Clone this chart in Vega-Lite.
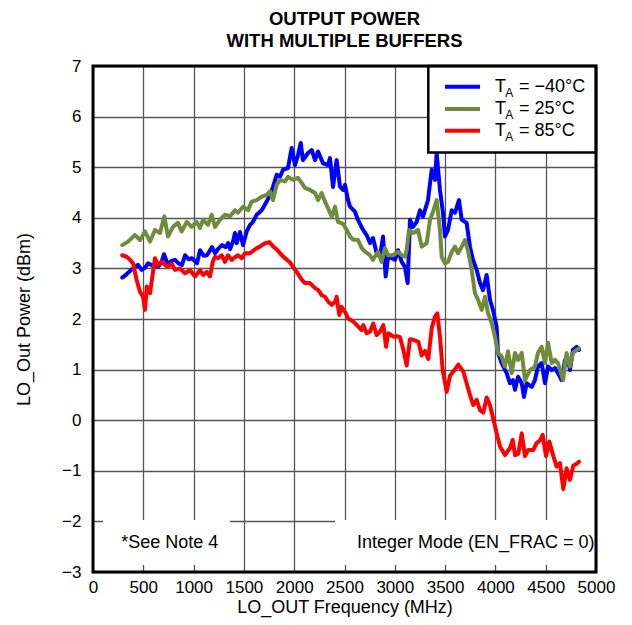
{
  "$schema": "https://vega.github.io/schema/vega-lite/v6.json",
  "width": 503,
  "height": 506,
  "autosize": {"type": "none"},
  "padding": {"left": 93, "top": 66, "right": 36, "bottom": 53},
  "background": "white",
  "config": {
    "view": {"stroke": null},
    "font": "Liberation Sans",
    "text": {"font": "Liberation Sans", "color": "black"}
  },
  "title": {
    "text": ["OUTPUT POWER", "WITH MULTIPLE BUFFERS"],
    "font": "Liberation Sans",
    "fontSize": 18.5,
    "fontWeight": "bold",
    "color": "black",
    "anchor": "middle",
    "lineHeight": 22,
    "offset": 7
  },
  "data": {
    "values": [
      {"s":"−40°C","f":291,"p":2.82},{"s":"−40°C","f":320,"p":2.86},{"s":"−40°C","f":368,"p":2.95},{"s":"−40°C","f":400,"p":3.0},{"s":"−40°C","f":447,"p":3.07},{"s":"−40°C","f":484,"p":2.97},{"s":"−40°C","f":520,"p":3.02},{"s":"−40°C","f":547,"p":3.1},{"s":"−40°C","f":600,"p":3.05},{"s":"−40°C","f":646,"p":3.03},{"s":"−40°C","f":680,"p":3.12},{"s":"−40°C","f":706,"p":3.28},{"s":"−40°C","f":745,"p":3.07},{"s":"−40°C","f":780,"p":3.15},{"s":"−40°C","f":815,"p":3.17},{"s":"−40°C","f":850,"p":3.1},{"s":"−40°C","f":885,"p":3.07},{"s":"−40°C","f":915,"p":3.26},{"s":"−40°C","f":950,"p":3.18},{"s":"−40°C","f":984,"p":3.2},{"s":"−40°C","f":1034,"p":3.1},{"s":"−40°C","f":1064,"p":3.36},{"s":"−40°C","f":1100,"p":3.25},{"s":"−40°C","f":1133,"p":3.26},{"s":"−40°C","f":1183,"p":3.42},{"s":"−40°C","f":1213,"p":3.3},{"s":"−40°C","f":1250,"p":3.4},{"s":"−40°C","f":1282,"p":3.46},{"s":"−40°C","f":1320,"p":3.42},{"s":"−40°C","f":1342,"p":3.5},{"s":"−40°C","f":1362,"p":3.38},{"s":"−40°C","f":1395,"p":3.55},{"s":"−40°C","f":1411,"p":3.7},{"s":"−40°C","f":1428,"p":3.5},{"s":"−40°C","f":1461,"p":3.72},{"s":"−40°C","f":1491,"p":3.46},{"s":"−40°C","f":1528,"p":3.73},{"s":"−40°C","f":1561,"p":3.86},{"s":"−40°C","f":1590,"p":3.92},{"s":"−40°C","f":1627,"p":4.06},{"s":"−40°C","f":1677,"p":4.15},{"s":"−40°C","f":1726,"p":4.32},{"s":"−40°C","f":1759,"p":4.45},{"s":"−40°C","f":1789,"p":4.61},{"s":"−40°C","f":1826,"p":4.85},{"s":"−40°C","f":1859,"p":4.81},{"s":"−40°C","f":1889,"p":4.95},{"s":"−40°C","f":1938,"p":4.98},{"s":"−40°C","f":1975,"p":5.38},{"s":"−40°C","f":2008,"p":5.04},{"s":"−40°C","f":2038,"p":5.24},{"s":"−40°C","f":2065,"p":5.48},{"s":"−40°C","f":2087,"p":5.14},{"s":"−40°C","f":2137,"p":5.28},{"s":"−40°C","f":2174,"p":5.34},{"s":"−40°C","f":2207,"p":5.14},{"s":"−40°C","f":2237,"p":5.31},{"s":"−40°C","f":2286,"p":5.08},{"s":"−40°C","f":2336,"p":5.04},{"s":"−40°C","f":2356,"p":5.18},{"s":"−40°C","f":2386,"p":4.61},{"s":"−40°C","f":2422,"p":5.14},{"s":"−40°C","f":2455,"p":4.62},{"s":"−40°C","f":2485,"p":4.55},{"s":"−40°C","f":2505,"p":4.65},{"s":"−40°C","f":2535,"p":4.35},{"s":"−40°C","f":2555,"p":4.22},{"s":"−40°C","f":2604,"p":4.12},{"s":"−40°C","f":2634,"p":3.96},{"s":"−40°C","f":2684,"p":3.76},{"s":"−40°C","f":2720,"p":3.66},{"s":"−40°C","f":2753,"p":3.5},{"s":"−40°C","f":2783,"p":3.6},{"s":"−40°C","f":2820,"p":3.3},{"s":"−40°C","f":2853,"p":3.23},{"s":"−40°C","f":2883,"p":3.63},{"s":"−40°C","f":2909,"p":2.84},{"s":"−40°C","f":2933,"p":3.23},{"s":"−40°C","f":2969,"p":3.2},{"s":"−40°C","f":3002,"p":3.17},{"s":"−40°C","f":3032,"p":3.36},{"s":"−40°C","f":3069,"p":3.13},{"s":"−40°C","f":3101,"p":3.03},{"s":"−40°C","f":3128,"p":2.71},{"s":"−40°C","f":3151,"p":3.96},{"s":"−40°C","f":3181,"p":3.82},{"s":"−40°C","f":3218,"p":3.92},{"s":"−40°C","f":3250,"p":4.15},{"s":"−40°C","f":3280,"p":4.02},{"s":"−40°C","f":3330,"p":4.35},{"s":"−40°C","f":3367,"p":4.95},{"s":"−40°C","f":3400,"p":4.75},{"s":"−40°C","f":3416,"p":5.28},{"s":"−40°C","f":3449,"p":4.55},{"s":"−40°C","f":3479,"p":4.1},{"s":"−40°C","f":3499,"p":3.63},{"s":"−40°C","f":3529,"p":3.76},{"s":"−40°C","f":3566,"p":4.15},{"s":"−40°C","f":3598,"p":4.1},{"s":"−40°C","f":3638,"p":4.35},{"s":"−40°C","f":3665,"p":3.96},{"s":"−40°C","f":3714,"p":3.9},{"s":"−40°C","f":3747,"p":3.43},{"s":"−40°C","f":3777,"p":3.17},{"s":"−40°C","f":3814,"p":2.97},{"s":"−40°C","f":3847,"p":2.71},{"s":"−40°C","f":3877,"p":2.57},{"s":"−40°C","f":3913,"p":2.87},{"s":"−40°C","f":3946,"p":2.38},{"s":"−40°C","f":3976,"p":2.18},{"s":"−40°C","f":4012,"p":1.85},{"s":"−40°C","f":4026,"p":1.33},{"s":"−40°C","f":4062,"p":1.13},{"s":"−40°C","f":4112,"p":0.93},{"s":"−40°C","f":4145,"p":0.73},{"s":"−40°C","f":4175,"p":0.79},{"s":"−40°C","f":4195,"p":0.6},{"s":"−40°C","f":4225,"p":0.86},{"s":"−40°C","f":4262,"p":0.73},{"s":"−40°C","f":4284,"p":0.46},{"s":"−40°C","f":4311,"p":0.73},{"s":"−40°C","f":4361,"p":0.66},{"s":"−40°C","f":4393,"p":0.79},{"s":"−40°C","f":4423,"p":1.06},{"s":"−40°C","f":4460,"p":1.13},{"s":"−40°C","f":4493,"p":0.73},{"s":"−40°C","f":4523,"p":1.06},{"s":"−40°C","f":4560,"p":0.99},{"s":"−40°C","f":4592,"p":1.03},{"s":"−40°C","f":4622,"p":0.93},{"s":"−40°C","f":4659,"p":0.79},{"s":"−40°C","f":4692,"p":1.19},{"s":"−40°C","f":4722,"p":1.19},{"s":"−40°C","f":4741,"p":0.99},{"s":"−40°C","f":4771,"p":1.39},{"s":"−40°C","f":4808,"p":1.45},{"s":"−40°C","f":4831,"p":1.39},
      {"s":"25°C","f":291,"p":3.46},{"s":"25°C","f":348,"p":3.53},{"s":"25°C","f":417,"p":3.66},{"s":"25°C","f":467,"p":3.56},{"s":"25°C","f":517,"p":3.73},{"s":"25°C","f":567,"p":3.53},{"s":"25°C","f":616,"p":3.76},{"s":"25°C","f":666,"p":3.7},{"s":"25°C","f":709,"p":4.03},{"s":"25°C","f":745,"p":3.63},{"s":"25°C","f":795,"p":3.82},{"s":"25°C","f":845,"p":3.9},{"s":"25°C","f":881,"p":3.73},{"s":"25°C","f":932,"p":3.92},{"s":"25°C","f":981,"p":3.82},{"s":"25°C","f":1031,"p":3.92},{"s":"25°C","f":1064,"p":3.8},{"s":"25°C","f":1094,"p":3.96},{"s":"25°C","f":1143,"p":3.86},{"s":"25°C","f":1180,"p":4.06},{"s":"25°C","f":1213,"p":3.82},{"s":"25°C","f":1262,"p":3.96},{"s":"25°C","f":1312,"p":4.06},{"s":"25°C","f":1362,"p":4.03},{"s":"25°C","f":1411,"p":4.15},{"s":"25°C","f":1441,"p":4.1},{"s":"25°C","f":1491,"p":4.22},{"s":"25°C","f":1541,"p":4.15},{"s":"25°C","f":1577,"p":4.32},{"s":"25°C","f":1627,"p":4.35},{"s":"25°C","f":1677,"p":4.42},{"s":"25°C","f":1726,"p":4.45},{"s":"25°C","f":1759,"p":4.52},{"s":"25°C","f":1789,"p":4.35},{"s":"25°C","f":1826,"p":4.65},{"s":"25°C","f":1859,"p":4.75},{"s":"25°C","f":1909,"p":4.72},{"s":"25°C","f":1938,"p":4.81},{"s":"25°C","f":1988,"p":4.75},{"s":"25°C","f":2038,"p":4.79},{"s":"25°C","f":2074,"p":4.69},{"s":"25°C","f":2107,"p":4.59},{"s":"25°C","f":2157,"p":4.55},{"s":"25°C","f":2207,"p":4.49},{"s":"25°C","f":2237,"p":4.35},{"s":"25°C","f":2273,"p":4.49},{"s":"25°C","f":2306,"p":4.32},{"s":"25°C","f":2336,"p":4.19},{"s":"25°C","f":2373,"p":4.02},{"s":"25°C","f":2406,"p":4.22},{"s":"25°C","f":2435,"p":3.92},{"s":"25°C","f":2485,"p":3.88},{"s":"25°C","f":2522,"p":3.76},{"s":"25°C","f":2555,"p":3.63},{"s":"25°C","f":2585,"p":3.57},{"s":"25°C","f":2634,"p":3.56},{"s":"25°C","f":2671,"p":3.4},{"s":"25°C","f":2704,"p":3.33},{"s":"25°C","f":2753,"p":3.26},{"s":"25°C","f":2783,"p":3.17},{"s":"25°C","f":2833,"p":3.33},{"s":"25°C","f":2869,"p":3.13},{"s":"25°C","f":2902,"p":3.4},{"s":"25°C","f":2933,"p":3.26},{"s":"25°C","f":2982,"p":3.26},{"s":"25°C","f":3032,"p":3.33},{"s":"25°C","f":3069,"p":3.26},{"s":"25°C","f":3101,"p":3.23},{"s":"25°C","f":3118,"p":3.36},{"s":"25°C","f":3141,"p":3.76},{"s":"25°C","f":3181,"p":3.7},{"s":"25°C","f":3231,"p":3.76},{"s":"25°C","f":3267,"p":3.43},{"s":"25°C","f":3317,"p":3.5},{"s":"25°C","f":3350,"p":3.96},{"s":"25°C","f":3380,"p":4.12},{"s":"25°C","f":3416,"p":4.35},{"s":"25°C","f":3449,"p":3.76},{"s":"25°C","f":3466,"p":3.23},{"s":"25°C","f":3499,"p":3.1},{"s":"25°C","f":3529,"p":3.13},{"s":"25°C","f":3566,"p":3.33},{"s":"25°C","f":3598,"p":3.43},{"s":"25°C","f":3628,"p":3.3},{"s":"25°C","f":3665,"p":3.43},{"s":"25°C","f":3698,"p":3.56},{"s":"25°C","f":3727,"p":3.36},{"s":"25°C","f":3764,"p":2.97},{"s":"25°C","f":3797,"p":2.51},{"s":"25°C","f":3827,"p":2.38},{"s":"25°C","f":3864,"p":2.18},{"s":"25°C","f":3897,"p":2.44},{"s":"25°C","f":3926,"p":2.12},{"s":"25°C","f":3963,"p":1.92},{"s":"25°C","f":3996,"p":1.65},{"s":"25°C","f":4026,"p":1.33},{"s":"25°C","f":4062,"p":1.26},{"s":"25°C","f":4095,"p":1.06},{"s":"25°C","f":4125,"p":1.36},{"s":"25°C","f":4162,"p":0.93},{"s":"25°C","f":4195,"p":1.33},{"s":"25°C","f":4225,"p":1.19},{"s":"25°C","f":4262,"p":1.33},{"s":"25°C","f":4294,"p":0.79},{"s":"25°C","f":4344,"p":0.99},{"s":"25°C","f":4393,"p":1.06},{"s":"25°C","f":4423,"p":1.33},{"s":"25°C","f":4460,"p":1.45},{"s":"25°C","f":4493,"p":1.13},{"s":"25°C","f":4523,"p":1.53},{"s":"25°C","f":4560,"p":1.13},{"s":"25°C","f":4592,"p":1.19},{"s":"25°C","f":4622,"p":1.13},{"s":"25°C","f":4672,"p":0.79},{"s":"25°C","f":4708,"p":1.33},{"s":"25°C","f":4741,"p":1.06},{"s":"25°C","f":4771,"p":1.33},{"s":"25°C","f":4808,"p":1.39},{"s":"25°C","f":4831,"p":1.42},
      {"s":"85°C","f":291,"p":3.26},{"s":"85°C","f":335,"p":3.23},{"s":"85°C","f":368,"p":3.17},{"s":"85°C","f":398,"p":3.1},{"s":"85°C","f":434,"p":2.77},{"s":"85°C","f":467,"p":2.54},{"s":"85°C","f":497,"p":2.44},{"s":"85°C","f":517,"p":2.18},{"s":"85°C","f":534,"p":2.64},{"s":"85°C","f":567,"p":2.51},{"s":"85°C","f":590,"p":2.84},{"s":"85°C","f":616,"p":3.2},{"s":"85°C","f":646,"p":3.07},{"s":"85°C","f":682,"p":3.13},{"s":"85°C","f":716,"p":3.07},{"s":"85°C","f":745,"p":3.03},{"s":"85°C","f":782,"p":3.1},{"s":"85°C","f":815,"p":2.97},{"s":"85°C","f":865,"p":3.0},{"s":"85°C","f":915,"p":2.9},{"s":"85°C","f":964,"p":2.97},{"s":"85°C","f":1014,"p":2.84},{"s":"85°C","f":1064,"p":2.97},{"s":"85°C","f":1094,"p":2.87},{"s":"85°C","f":1130,"p":2.93},{"s":"85°C","f":1163,"p":2.84},{"s":"85°C","f":1190,"p":3.13},{"s":"85°C","f":1213,"p":3.23},{"s":"85°C","f":1243,"p":3.2},{"s":"85°C","f":1279,"p":3.26},{"s":"85°C","f":1312,"p":3.13},{"s":"85°C","f":1342,"p":3.26},{"s":"85°C","f":1378,"p":3.17},{"s":"85°C","f":1411,"p":3.22},{"s":"85°C","f":1441,"p":3.26},{"s":"85°C","f":1478,"p":3.2},{"s":"85°C","f":1511,"p":3.3},{"s":"85°C","f":1561,"p":3.3},{"s":"85°C","f":1610,"p":3.38},{"s":"85°C","f":1660,"p":3.43},{"s":"85°C","f":1710,"p":3.5},{"s":"85°C","f":1753,"p":3.52},{"s":"85°C","f":1793,"p":3.43},{"s":"85°C","f":1830,"p":3.37},{"s":"85°C","f":1859,"p":3.3},{"s":"85°C","f":1909,"p":3.2},{"s":"85°C","f":1958,"p":3.12},{"s":"85°C","f":1988,"p":3.03},{"s":"85°C","f":2025,"p":2.93},{"s":"85°C","f":2074,"p":2.78},{"s":"85°C","f":2107,"p":2.71},{"s":"85°C","f":2157,"p":2.71},{"s":"85°C","f":2207,"p":2.61},{"s":"85°C","f":2240,"p":2.57},{"s":"85°C","f":2273,"p":2.47},{"s":"85°C","f":2306,"p":2.44},{"s":"85°C","f":2339,"p":2.34},{"s":"85°C","f":2373,"p":2.28},{"s":"85°C","f":2406,"p":2.34},{"s":"85°C","f":2422,"p":2.44},{"s":"85°C","f":2448,"p":2.08},{"s":"85°C","f":2472,"p":2.24},{"s":"85°C","f":2505,"p":2.14},{"s":"85°C","f":2538,"p":2.01},{"s":"85°C","f":2588,"p":1.95},{"s":"85°C","f":2637,"p":1.85},{"s":"85°C","f":2671,"p":1.78},{"s":"85°C","f":2687,"p":1.88},{"s":"85°C","f":2720,"p":1.72},{"s":"85°C","f":2753,"p":1.75},{"s":"85°C","f":2786,"p":1.91},{"s":"85°C","f":2820,"p":1.68},{"s":"85°C","f":2853,"p":1.75},{"s":"85°C","f":2886,"p":1.88},{"s":"85°C","f":2913,"p":1.45},{"s":"85°C","f":2935,"p":1.72},{"s":"85°C","f":2985,"p":1.65},{"s":"85°C","f":3019,"p":1.66},{"s":"85°C","f":3052,"p":1.64},{"s":"85°C","f":3085,"p":1.39},{"s":"85°C","f":3118,"p":1.08},{"s":"85°C","f":3151,"p":1.6},{"s":"85°C","f":3184,"p":1.59},{"s":"85°C","f":3234,"p":1.55},{"s":"85°C","f":3267,"p":1.28},{"s":"85°C","f":3300,"p":1.37},{"s":"85°C","f":3333,"p":1.21},{"s":"85°C","f":3367,"p":1.82},{"s":"85°C","f":3400,"p":2.05},{"s":"85°C","f":3423,"p":2.11},{"s":"85°C","f":3449,"p":1.65},{"s":"85°C","f":3476,"p":0.99},{"s":"85°C","f":3516,"p":0.56},{"s":"85°C","f":3549,"p":0.88},{"s":"85°C","f":3598,"p":1.0},{"s":"85°C","f":3631,"p":1.1},{"s":"85°C","f":3681,"p":0.96},{"s":"85°C","f":3714,"p":0.73},{"s":"85°C","f":3747,"p":0.5},{"s":"85°C","f":3780,"p":0.3},{"s":"85°C","f":3814,"p":0.4},{"s":"85°C","f":3847,"p":0.2},{"s":"85°C","f":3880,"p":0.15},{"s":"85°C","f":3913,"p":0.45},{"s":"85°C","f":3946,"p":0.3},{"s":"85°C","f":3980,"p":0.02},{"s":"85°C","f":4013,"p":-0.26},{"s":"85°C","f":4046,"p":-0.52},{"s":"85°C","f":4095,"p":-0.69},{"s":"85°C","f":4145,"p":-0.55},{"s":"85°C","f":4172,"p":-0.39},{"s":"85°C","f":4195,"p":-0.69},{"s":"85°C","f":4228,"p":-0.66},{"s":"85°C","f":4262,"p":-0.26},{"s":"85°C","f":4294,"p":-0.71},{"s":"85°C","f":4327,"p":-0.59},{"s":"85°C","f":4377,"p":-0.59},{"s":"85°C","f":4410,"p":-0.45},{"s":"85°C","f":4443,"p":-0.4},{"s":"85°C","f":4470,"p":-0.29},{"s":"85°C","f":4503,"p":-0.71},{"s":"85°C","f":4536,"p":-0.42},{"s":"85°C","f":4576,"p":-0.71},{"s":"85°C","f":4609,"p":-0.92},{"s":"85°C","f":4642,"p":-0.85},{"s":"85°C","f":4675,"p":-1.36},{"s":"85°C","f":4708,"p":-0.95},{"s":"85°C","f":4741,"p":-1.18},{"s":"85°C","f":4774,"p":-0.9},{"s":"85°C","f":4808,"p":-0.86},{"s":"85°C","f":4831,"p":-0.82}
    ]
  },
  "encoding": {
    "x": {
      "type": "quantitative",
      "scale": {"domain": [0, 5000], "nice": false},
      "axis": {
        "values": [0, 500, 1000, 1500, 2000, 2500, 3000, 3500, 4000, 4500, 5000],
        "format": "d",
        "title": "LO_OUT Frequency (MHz)",
        "grid": true, "gridColor": "#555555", "gridWidth": 1.3,
        "domain": false, "ticks": false,
        "labelFont": "Liberation Sans", "labelFontSize": 17, "labelColor": "black",
        "labelPadding": 7, "labelFlush": false, "labelOverlap": false,
        "titleFont": "Liberation Sans", "titleFontSize": 18, "titleFontWeight": "normal",
        "titleColor": "black", "titlePadding": 3
      }
    },
    "y": {
      "type": "quantitative",
      "scale": {"domain": [-3, 7], "nice": false},
      "axis": {
        "values": [-3, -2, -1, 0, 1, 2, 3, 4, 5, 6, 7],
        "title": "LO_Out Power (dBm)",
        "grid": true, "gridColor": "#555555", "gridWidth": 1.3,
        "domain": false, "ticks": false,
        "labelFont": "Liberation Sans", "labelFontSize": 17, "labelColor": "black",
        "labelPadding": 12, "labelFlush": false, "labelOverlap": false,
        "titleFont": "Liberation Sans", "titleFontSize": 18, "titleFontWeight": "normal",
        "titleColor": "black", "titlePadding": 28
      }
    }
  },
  "layer": [
    {
      "mark": {"type": "line", "strokeWidth": 4, "strokeJoin": "round", "strokeCap": "round"},
      "encoding": {
        "x": {"field": "f", "type": "quantitative"},
        "y": {"field": "p", "type": "quantitative"},
        "color": {
          "field": "s", "type": "nominal",
          "scale": {"domain": ["−40°C", "25°C", "85°C"], "range": ["#0000FF", "#6F8C3C", "#FF0000"]},
          "legend": null
        }
      }
    },
    {
      "data": {"values": [{}]},
      "mark": {"type": "rect", "fill": "white"},
      "encoding": {"x": {"datum": 100}, "x2": {"datum": 1362}, "y": {"datum": -2.86}, "y2": {"datum": -1.97}}
    },
    {
      "data": {"values": [{}]},
      "mark": {"type": "rect", "fill": "white"},
      "encoding": {"x": {"datum": 2406}, "x2": {"datum": 5000}, "y": {"datum": -2.86}, "y2": {"datum": -1.97}}
    },
    {
      "data": {"values": [{"t": "*See Note 4"}]},
      "mark": {"type": "text", "fontSize": 18, "align": "center", "baseline": "middle"},
      "encoding": {"x": {"datum": 762}, "y": {"datum": -2.43}, "text": {"field": "t"}}
    },
    {
      "data": {"values": [{"t": "Integer Mode (EN_FRAC = 0)"}]},
      "mark": {"type": "text", "fontSize": 18, "align": "right", "baseline": "middle"},
      "encoding": {"x": {"datum": 4985}, "y": {"datum": -2.43}, "text": {"field": "t"}}
    },
    {
      "data": {"values": [{}]},
      "mark": {"type": "rect", "fill": "white", "stroke": "black", "strokeWidth": 2.5},
      "encoding": {"x": {"datum": 3333}, "x2": {"datum": 5000}, "y": {"datum": 5.29}, "y2": {"datum": 7}}
    },
    {
      "data": {"values": [{}]},
      "mark": {"type": "rule", "color": "#0000FF", "strokeWidth": 4},
      "encoding": {"x": {"datum": 3499}, "x2": {"datum": 3847}, "y": {"datum": 6.59}}
    },
    {
      "data": {"values": [{}]},
      "mark": {"type": "rule", "color": "#6F8C3C", "strokeWidth": 4},
      "encoding": {"x": {"datum": 3499}, "x2": {"datum": 3847}, "y": {"datum": 6.15}}
    },
    {
      "data": {"values": [{}]},
      "mark": {"type": "rule", "color": "#FF0000", "strokeWidth": 4},
      "encoding": {"x": {"datum": 3499}, "x2": {"datum": 3847}, "y": {"datum": 5.72}}
    },
    {
      "data": {"values": [{"t": "T"}]},
      "mark": {"type": "text", "fontSize": 18, "align": "left", "baseline": "middle"},
      "encoding": {"x": {"datum": 3996}, "y": {"datum": 6.59}, "text": {"field": "t"}}
    },
    {
      "data": {"values": [{"t": "T"}]},
      "mark": {"type": "text", "fontSize": 18, "align": "left", "baseline": "middle"},
      "encoding": {"x": {"datum": 3996}, "y": {"datum": 6.15}, "text": {"field": "t"}}
    },
    {
      "data": {"values": [{"t": "T"}]},
      "mark": {"type": "text", "fontSize": 18, "align": "left", "baseline": "middle"},
      "encoding": {"x": {"datum": 3996}, "y": {"datum": 5.72}, "text": {"field": "t"}}
    },
    {
      "data": {"values": [{"t": "A"}]},
      "mark": {"type": "text", "fontSize": 12, "align": "left", "baseline": "middle", "dy": 6},
      "encoding": {"x": {"datum": 4098}, "y": {"datum": 6.59}, "text": {"field": "t"}}
    },
    {
      "data": {"values": [{"t": "A"}]},
      "mark": {"type": "text", "fontSize": 12, "align": "left", "baseline": "middle", "dy": 6},
      "encoding": {"x": {"datum": 4098}, "y": {"datum": 6.15}, "text": {"field": "t"}}
    },
    {
      "data": {"values": [{"t": "A"}]},
      "mark": {"type": "text", "fontSize": 12, "align": "left", "baseline": "middle", "dy": 6},
      "encoding": {"x": {"datum": 4098}, "y": {"datum": 5.72}, "text": {"field": "t"}}
    },
    {
      "data": {"values": [{"t": "= −40°C"}]},
      "mark": {"type": "text", "fontSize": 18, "align": "left", "baseline": "middle"},
      "encoding": {"x": {"datum": 4235}, "y": {"datum": 6.59}, "text": {"field": "t"}}
    },
    {
      "data": {"values": [{"t": "= 25°C"}]},
      "mark": {"type": "text", "fontSize": 18, "align": "left", "baseline": "middle"},
      "encoding": {"x": {"datum": 4235}, "y": {"datum": 6.15}, "text": {"field": "t"}}
    },
    {
      "data": {"values": [{"t": "= 85°C"}]},
      "mark": {"type": "text", "fontSize": 18, "align": "left", "baseline": "middle"},
      "encoding": {"x": {"datum": 4235}, "y": {"datum": 5.72}, "text": {"field": "t"}}
    },
    {
      "data": {"values": [{}]},
      "mark": {"type": "rect", "filled": false, "stroke": "black", "strokeWidth": 3},
      "encoding": {"x": {"datum": 0}, "x2": {"datum": 5000}, "y": {"datum": -3}, "y2": {"datum": 7}}
    }
  ]
}
